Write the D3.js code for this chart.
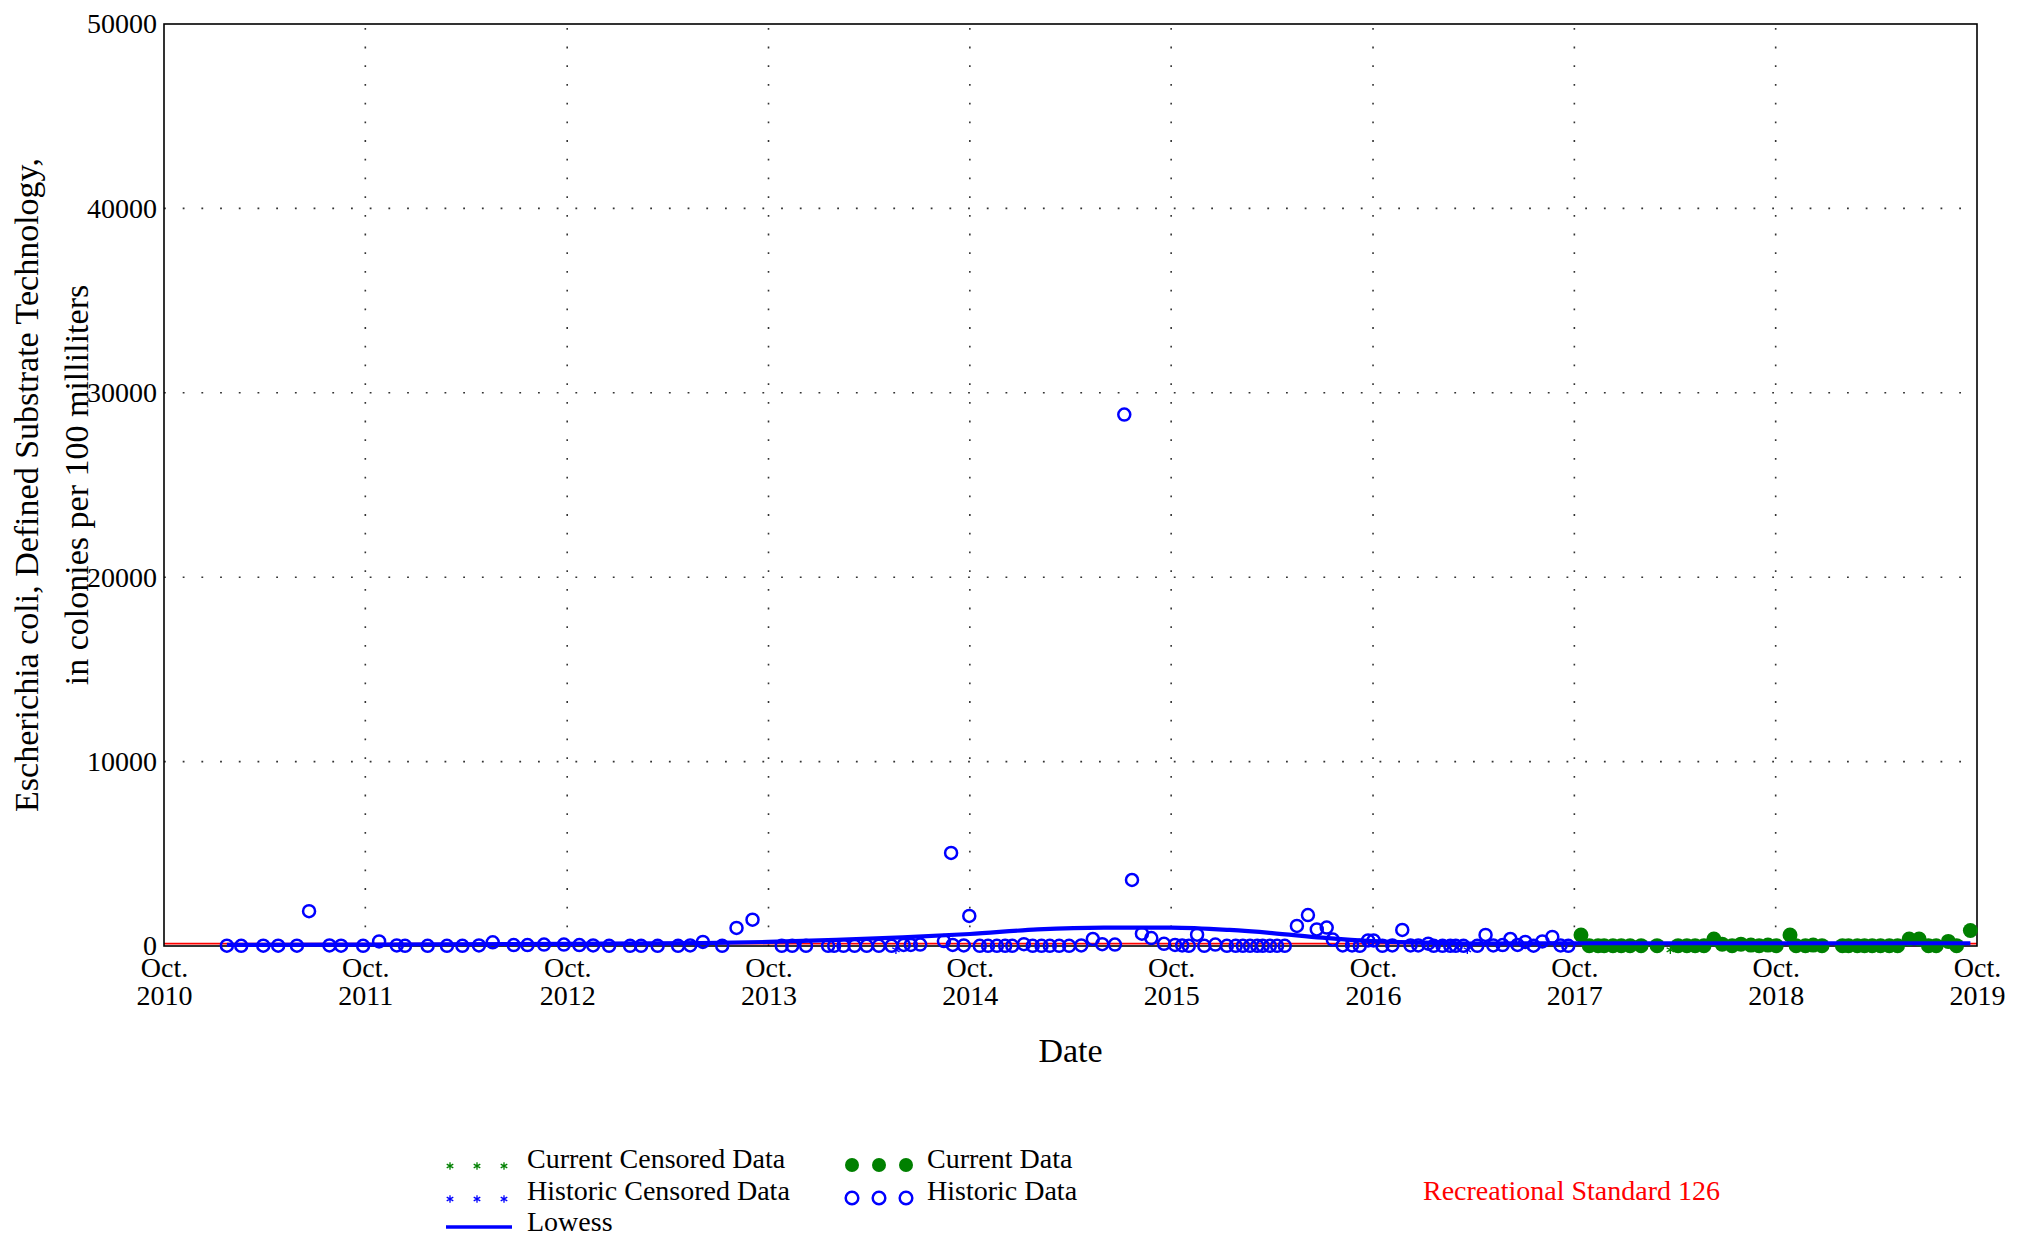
<!DOCTYPE html>
<html>
<head>
<meta charset="utf-8">
<script src="https://cdn.jsdelivr.net/npm/d3@7"></script>
<style>
  html, body { margin: 0; padding: 0; background: #fff; }
  svg { display: block; font-family: "Liberation Serif", "Times New Roman", serif; }
</style>
</head>
<body>
<svg id="chart" width="2028" height="1236"></svg>
<script>
// ---------------- DATA ----------------
const historicDates = [
  "2011-01-23","2011-02-18","2011-03-30","2011-04-26","2011-05-30","2011-06-21","2011-07-28","2011-08-18","2011-09-27",
  "2011-10-26","2011-11-27","2011-12-12","2012-01-22","2012-02-26","2012-03-25","2012-04-24","2012-05-19","2012-06-26",
  "2012-07-21","2012-08-20","2012-09-25","2012-10-23","2012-11-17","2012-12-16","2013-01-23","2013-02-12","2013-03-14",
  "2013-04-20","2013-05-12","2013-06-04","2013-07-09","2013-08-04","2013-09-02","2013-10-25","2013-11-13","2013-12-08",
  "2014-01-17","2014-01-28","2014-02-14","2014-03-06","2014-03-28","2014-04-19","2014-05-12","2014-06-03","2014-06-16",
  "2014-07-03","2014-08-15","2014-08-28","2014-08-31","2014-09-20","2014-09-30","2014-10-19","2014-11-03","2014-11-19",
  "2014-12-04","2014-12-17","2015-01-07","2015-01-23","2015-02-08","2015-02-23","2015-03-12","2015-03-30","2015-04-21",
  "2015-05-12","2015-05-29","2015-06-21","2015-07-08","2015-07-22","2015-08-09","2015-08-26","2015-09-18","2015-10-08",
  "2015-10-21","2015-11-02","2015-11-17","2015-11-30","2015-12-20","2016-01-10","2016-01-26","2016-02-08","2016-02-21",
  "2016-03-05","2016-03-15","2016-03-28","2016-04-10","2016-04-24","2016-05-16","2016-06-05","2016-06-21","2016-07-09",
  "2016-07-20","2016-08-07","2016-08-24","2016-09-07","2016-09-22","2016-10-02","2016-10-18","2016-11-05","2016-11-23",
  "2016-12-08","2016-12-22","2017-01-09","2017-01-19","2017-02-04","2017-02-18","2017-02-28","2017-03-14","2017-04-08",
  "2017-04-23","2017-05-07","2017-05-24","2017-06-07","2017-06-20","2017-07-04","2017-07-19","2017-08-04","2017-08-22",
  "2017-09-06","2017-09-20"
];
const historicValues = [
  20,10,20,20,20,1890,30,20,10,
  250,30,10,10,10,10,30,200,50,
  50,80,80,50,30,10,10,10,10,
  10,30,220,10,980,1430,10,10,10,
  10,10,10,10,10,10,10,60,60,
  80,270,5050,60,30,1630,10,10,10,
  10,10,100,10,10,10,10,10,30,
  380,100,80,28820,3580,670,430,120,60,
  30,10,615,10,80,10,10,10,10,
  10,10,10,10,10,1090,1680,900,1000,
  350,30,30,10,300,300,10,30,870,
  30,30,125,10,10,10,10,10,10,
  600,30,50,380,60,220,20,250,490,
  30,10
];
const historicCensoredDates = ["2014-05-20","2017-03-21"];
const historicCensoredValues = [10,10];

const currentDates = [
  "2017-10-13","2017-10-28","2017-11-13","2017-11-24","2017-12-10","2017-12-25","2018-01-10","2018-01-30","2018-02-28",
  "2018-04-07","2018-04-23","2018-05-08","2018-05-24","2018-06-11","2018-06-26","2018-07-14","2018-07-30","2018-08-17",
  "2018-09-01","2018-09-17","2018-10-02","2018-10-27","2018-11-07","2018-11-24","2018-12-08","2018-12-24","2019-01-30",
  "2019-02-10","2019-02-26","2019-03-11","2019-03-25","2019-04-09","2019-04-25","2019-05-10","2019-05-31","2019-06-18",
  "2019-07-05","2019-07-19","2019-08-10","2019-08-25","2019-09-19"
];
const currentValues = [
  600,20,20,20,20,20,20,20,20,
  20,20,20,20,380,100,20,100,50,
  20,50,20,600,20,20,50,20,20,
  20,20,20,20,20,20,20,380,380,
  20,20,250,20,840
];
const currentCensoredDates = ["2018-03-24"];
const currentCensoredValues = [10];

const lowessDates = [
  "2011-01-23","2011-10-01","2012-10-01","2013-06-01","2013-10-01","2014-02-01","2014-06-01","2014-10-01",
  "2015-02-01","2015-06-01","2015-10-01","2016-01-15","2016-04-01","2016-07-01","2016-10-01","2017-01-01",
  "2017-04-01","2017-10-01","2018-10-01","2019-09-19"
];
const lowessValues = [
  60,80,120,160,220,330,470,650,
  900,1000,1000,870,700,450,260,180,
  130,150,150,150
];

const yTickValues = [0,10000,20000,30000,40000,50000];
const xTickYears = [2010,2011,2012,2013,2014,2015,2016,2017,2018,2019];
const xTickMonthLabel = "Oct.";
const recreationalStandard = 126;

const xAxisTitle = "Date";
const yAxisTitleLines = ["Escherichia coli, Defined Substrate Technology,", "in colonies per 100 milliliters"];
const legendLabels = ["Current Censored Data","Historic Censored Data","Lowess","Current Data","Historic Data"];
const standardLabel = "Recreational Standard 126";

// ---------------- LAYOUT ----------------
const parse = d3.timeParse("%Y-%m-%d");
const plot = { left: 164, right: 1977, top: 24, bottom: 946 };
const BLUE = "#0000ff", GREEN = "#008000", RED = "#ff0000";

const svg = d3.select("#chart");

const x = d3.scaleTime()
  .domain([new Date(2010, 9, 1), new Date(2019, 9, 1)])
  .range([plot.left, plot.right]);
const y = d3.scaleLinear()
  .domain([0, 50000])
  .range([plot.bottom, plot.top]);

const xTicks = xTickYears.map(yr => new Date(yr, 9, 1));

// grid lines
const grid = svg.append("g");
grid.selectAll("line.vg").data(xTicks.slice(1, -1)).join("line")
  .attr("x1", d => x(d)).attr("x2", d => x(d))
  .attr("y1", plot.bottom).attr("y2", plot.top)
  .attr("stroke", "#333").attr("stroke-width", 1.6)
  .attr("stroke-dasharray", "1.8,16.9");
grid.selectAll("line.hg").data(yTickValues.slice(1, -1)).join("line")
  .attr("x1", plot.left).attr("x2", plot.right)
  .attr("y1", d => y(d)).attr("y2", d => y(d))
  .attr("stroke", "#333").attr("stroke-width", 1.6)
  .attr("stroke-dasharray", "1.8,16.9");

// recreational standard line
svg.append("line")
  .attr("x1", plot.left).attr("x2", plot.right)
  .attr("y1", y(recreationalStandard)).attr("y2", y(recreationalStandard))
  .attr("stroke", RED).attr("stroke-width", 1.8);

// frame
svg.append("rect")
  .attr("x", plot.left).attr("y", plot.top)
  .attr("width", plot.right - plot.left).attr("height", plot.bottom - plot.top)
  .attr("fill", "none").attr("stroke", "#000").attr("stroke-width", 1.6);

// axes
const yAxis = d3.axisLeft(y).tickValues(yTickValues).tickSize(0).tickPadding(7).tickFormat(d3.format("d"));
const yG = svg.append("g").attr("transform", `translate(${plot.left},0)`).call(yAxis);
yG.select(".domain").remove();
yG.selectAll(".tick text").attr("font-size", 28).attr("fill", "#000")
  .attr("font-family", "Liberation Serif, Times New Roman, serif");

const xAxis = d3.axisBottom(x).tickValues(xTicks).tickSize(0);
const xG = svg.append("g").attr("transform", `translate(0,${plot.bottom})`).call(xAxis);
xG.select(".domain").remove();
xG.selectAll(".tick text").attr("dy", null).attr("y", null).text(null)
  .attr("font-size", 28).attr("fill", "#000")
  .attr("font-family", "Liberation Serif, Times New Roman, serif")
  .each(function(d) {
    const t = d3.select(this);
    t.append("tspan").attr("x", 0).attr("y", 31).text(xTickMonthLabel);
    t.append("tspan").attr("x", 0).attr("y", 59).text(d.getFullYear());
  });

// axis titles
svg.append("text")
  .attr("x", (plot.left + plot.right) / 2).attr("y", 1062)
  .attr("text-anchor", "middle").attr("font-size", 34).text(xAxisTitle);
const yCenter = (plot.top + plot.bottom) / 2;
yAxisTitleLines.forEach((line, i) => {
  const bx = i === 0 ? 38 : 88;
  svg.append("text")
    .attr("transform", `translate(${bx},${yCenter}) rotate(-90)`)
    .attr("text-anchor", "middle").attr("font-size", 34).text(line);
});

// lowess
const lowess = lowessDates.map((d, i) => ({ date: parse(d), value: lowessValues[i] }));
const lineGen = d3.line().x(d => x(d.date)).y(d => y(d.value)).curve(d3.curveMonotoneX);

// historic data
const historic = historicDates.map((d, i) => ({ date: parse(d), value: historicValues[i] }));
svg.append("g").selectAll("circle").data(historic).join("circle")
  .attr("cx", d => x(d.date)).attr("cy", d => y(d.value)).attr("r", 6)
  .attr("fill", "none").attr("stroke", BLUE).attr("stroke-width", 2.5);

// censored
const star = d3.symbol().type(d3.symbolAsterisk).size(50);
const hCens = historicCensoredDates.map((d, i) => ({ date: parse(d), value: historicCensoredValues[i] }));
svg.append("g").selectAll("path").data(hCens).join("path")
  .attr("transform", d => `translate(${x(d.date)},${y(d.value) + 4})`)
  .attr("d", star).attr("fill", "none").attr("stroke", BLUE).attr("stroke-width", 1.3);

// current data
const current = currentDates.map((d, i) => ({ date: parse(d), value: currentValues[i] }));
svg.append("g").selectAll("circle").data(current).join("circle")
  .attr("cx", d => x(d.date)).attr("cy", d => y(d.value)).attr("r", 7.5)
  .attr("fill", GREEN).attr("stroke", "none");

const cCens = currentCensoredDates.map((d, i) => ({ date: parse(d), value: currentCensoredValues[i] }));
svg.append("g").selectAll("path").data(cCens).join("path")
  .attr("transform", d => `translate(${x(d.date)},${y(d.value) + 4})`)
  .attr("d", star).attr("fill", "none").attr("stroke", GREEN).attr("stroke-width", 1.3);

// lowess on top of points
svg.append("path").datum(lowess)
  .attr("d", lineGen).attr("fill", "none")
  .attr("stroke", BLUE).attr("stroke-width", 4.2).attr("stroke-linejoin", "round");

// ---------------- LEGEND ----------------
const leg = svg.append("g").attr("font-size", 28);
const legSymX = [450, 477, 504];
const legSym2X = [852, 879, 906];
const smallStar = d3.symbol().type(d3.symbolAsterisk).size(40);
legSymX.forEach(sx => {
  leg.append("path").attr("transform", `translate(${sx},1166)`).attr("d", smallStar)
    .attr("fill", "none").attr("stroke", GREEN).attr("stroke-width", 1.3);
  leg.append("path").attr("transform", `translate(${sx},1199)`).attr("d", smallStar)
    .attr("fill", "none").attr("stroke", BLUE).attr("stroke-width", 1.3);
});
leg.append("line").attr("x1", 446).attr("x2", 512).attr("y1", 1227).attr("y2", 1227)
  .attr("stroke", BLUE).attr("stroke-width", 3.5);
leg.append("text").attr("x", 527).attr("y", 1168).text(legendLabels[0]);
leg.append("text").attr("x", 527).attr("y", 1200).text(legendLabels[1]);
leg.append("text").attr("x", 527).attr("y", 1231).text(legendLabels[2]);
legSym2X.forEach(sx => {
  leg.append("circle").attr("cx", sx).attr("cy", 1165).attr("r", 7).attr("fill", GREEN);
  leg.append("circle").attr("cx", sx).attr("cy", 1198).attr("r", 6.3).attr("fill", "none")
    .attr("stroke", BLUE).attr("stroke-width", 2.5);
});
leg.append("text").attr("x", 927).attr("y", 1168).text(legendLabels[3]);
leg.append("text").attr("x", 927).attr("y", 1200).text(legendLabels[4]);

svg.append("text").attr("x", 1423).attr("y", 1200).attr("font-size", 28)
  .attr("fill", RED).text(standardLabel);
</script>
</body>
</html>
